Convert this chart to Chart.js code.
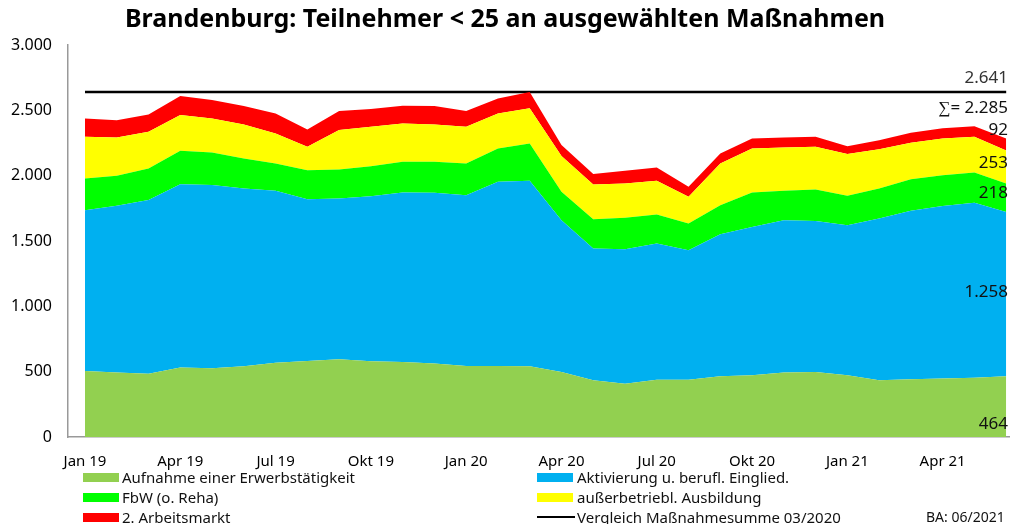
<!DOCTYPE html>
<html><head><meta charset="utf-8">
<script src="https://cdn.jsdelivr.net/npm/chart.js@4.4.1/dist/chart.umd.min.js"></script>
<style>
html,body{margin:0;padding:0;background:#fff;width:1010px;height:524px;overflow:hidden;font-family:"Noto Sans",sans-serif;}
#wrap{position:absolute;left:0;top:0;width:1010px;height:524px;}
.lg{position:absolute;font-size:15px;color:#111;white-space:nowrap;line-height:16px;}
.sw{position:absolute;width:36px;height:9px;}
.ln{position:absolute;width:38px;height:2px;background:#000;}
</style></head>
<body><div id="wrap"><canvas id="c" width="1010" height="524"></canvas>
<div class="sw" style="left:83px;top:473px;background:#92D050"></div><div class="lg" style="left:122px;top:469px">Aufnahme einer Erwerbstätigkeit</div>
<div class="sw" style="left:537px;top:473px;background:#00B0F0"></div><div class="lg" style="left:577px;top:469px">Aktivierung u. berufl. Einglied.</div>
<div class="sw" style="left:83px;top:493px;background:#00FF00"></div><div class="lg" style="left:122px;top:489px">FbW (o. Reha)</div>
<div class="sw" style="left:537px;top:493px;background:#FFFF00"></div><div class="lg" style="left:577px;top:489px">außerbetriebl. Ausbildung</div>
<div class="sw" style="left:83px;top:513px;background:#FF0000"></div><div class="lg" style="left:122px;top:509px">2. Arbeitsmarkt</div>
<div class="ln" style="left:537px;top:516px"></div><div class="lg" style="left:577px;top:509px">Vergleich Maßnahmesumme 03/2020</div>
<div class="lg" style="left:926px;top:509px;font-size:14px">BA: 06/2021</div>
</div>
<script>
const categories = ["Jan 19","Feb 19","Mrz 19","Apr 19","Mai 19","Jun 19","Jul 19","Aug 19","Sep 19","Okt 19","Nov 19","Dez 19",
"Jan 20","Feb 20","Mrz 20","Apr 20","Mai 20","Jun 20","Jul 20","Aug 20","Sep 20","Okt 20","Nov 20","Dez 20",
"Jan 21","Feb 21","Mrz 21","Apr 21","Mai 21","Jun 21"];
const tickIndices = [0,3,6,9,12,15,18,21,24,27];
const aufnahme    = [505,493,485,531,526,541,569,582,595,580,574,562,544,544,541,498,434,408,439,439,465,472,493,498,472,434,442,447,454,464];
const aktivierung = [1231,1276,1328,1404,1402,1361,1315,1238,1230,1263,1297,1307,1307,1409,1420,1161,1008,1029,1042,991,1087,1136,1166,1156,1149,1238,1289,1320,1338,1258];
const fbw         = [243,231,242,255,250,230,209,222,223,230,235,237,242,255,286,217,225,240,222,204,222,263,225,240,225,230,242,237,233,218];
const ausserbetr  = [319,293,281,274,260,260,230,179,301,301,294,286,281,268,268,274,266,263,258,204,319,337,332,327,319,301,279,281,273,253];
const arbeitsmarkt2 = [140,132,133,145,141,141,153,133,145,136,135,141,120,115,126,84,79,97,102,77,77,77,77,77,61,69,76,77,81,92];
const vergleichWert = 2641;
const yTicks = [0,500,1000,1500,2000,2500,3000];

function fmt(n){return String(Math.round(n)).replace(/\B(?=(\d{3})+(?!\d))/g,".");}
const pts = arr => arr.map((v,i)=>({x:i,y:v}));
function area(label,arr,color,fill){return {label,data:pts(arr),backgroundColor:color,borderColor:color,borderWidth:0,pointRadius:0,fill,stack:'s',tension:0};}

const last = a => a[a.length-1];
const total = last(aufnahme)+last(aktivierung)+last(fbw)+last(ausserbetr)+last(arbeitsmarkt2);

const labelsPlugin = {
  id:'rightLabels',
  afterDatasetsDraw(chart){
    const {ctx,chartArea,scales:{y}} = chart;
    const x = chartArea.right-2;
    ctx.save();
    ctx.textAlign='right';ctx.textBaseline='middle';
    ctx.font='17px "Noto Sans"';
    const items = [
      [fmt(vergleichWert), 2745, '#333'],
      ['∑= '+fmt(total), 2515, '#111'],
      [fmt(last(arbeitsmarkt2)), 2350, '#111'],
      [fmt(last(ausserbetr)), 2098, '#111'],
      [fmt(last(fbw)), 1868, '#111'],
      [fmt(last(aktivierung)), 1110, '#111'],
      [fmt(last(aufnahme)), 100, '#111']
    ];
    items.forEach(([t,v,c])=>{ctx.fillStyle=c;ctx.fillText(t,x,y.getPixelForValue(v));});
    ctx.restore();
  }
};

new Chart(document.getElementById('c'),{
  type:'line',
  data:{datasets:[
    area('Aufnahme einer Erwerbstätigkeit',aufnahme,'#92D050','origin'),
    area('Aktivierung u. berufl. Einglied.',aktivierung,'#00B0F0','-1'),
    area('FbW (o. Reha)',fbw,'#00FF00','-1'),
    area('außerbetriebl. Ausbildung',ausserbetr,'#FFFF00','-1'),
    area('2. Arbeitsmarkt',arbeitsmarkt2,'#FF0000','-1'),
    {label:'Vergleich Maßnahmesumme 03/2020',data:categories.map((c,i)=>({x:i,y:vergleichWert})),borderColor:'#000',borderWidth:2.5,pointRadius:0,fill:false,stack:'ref'}
  ]},
  plugins:[labelsPlugin],
  options:{
    responsive:false,animation:false,
    layout:{padding:{top:0,right:0,bottom:47,left:0}},
    plugins:{
      legend:{display:false},tooltip:{enabled:false},
      title:{display:true,text:'Brandenburg: Teilnehmer < 25 an ausgewählten Maßnahmen',font:{family:'"Noto Sans"',size:25,weight:'bold'},color:'#000',padding:{top:5,bottom:10}}
    },
    scales:{
      x:{type:'linear',min:-0.535,max:29.12,
        afterBuildTicks:s=>{s.ticks=tickIndices.map(v=>({value:v}));},
        afterFit:s=>{s.height=40;},
        grid:{display:false,drawTicks:false},
        border:{display:true,color:'#999',width:1.5},
        ticks:{padding:16,autoSkip:false,maxRotation:0,color:'#000',font:{family:'"Noto Sans"',size:15},callback:v=>categories[v]??''}
      },
      y:{stacked:true,min:0,max:3000,
        afterBuildTicks:s=>{s.ticks=yTicks.map(v=>({value:v}));},
        afterFit:s=>{s.width=68;},
        grid:{display:false,drawTicks:false},
        border:{display:true,color:'#999',width:1.5},
        ticks:{padding:16,color:'#000',font:{family:'"Noto Sans"',size:16},callback:v=>fmt(v)}
      }
    }
  }
});
</script></body></html>
